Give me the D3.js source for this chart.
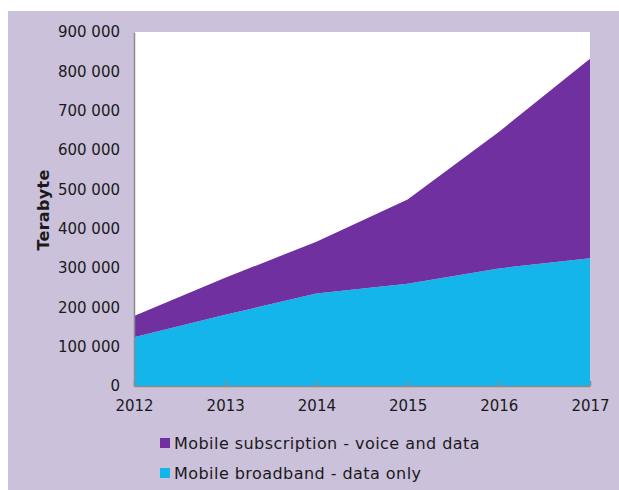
<!DOCTYPE html>
<html lang="en">
<head>
    <meta charset="UTF-8">
    <title>Mobile data traffic</title>
    <script src="https://d3js.org/d3.v7.min.js"></script>
    <style>
        body {
            margin: 0;
            background: #ffffff;
            font-family: "DejaVu Sans", Verdana, sans-serif;
        }
        svg { display: block; }
        .tick text { fill: #1a1a1a; font-size: 15px; font-family: "DejaVu Sans", Verdana, sans-serif; }
    </style>
</head>
<body>
    <div id="chart"></div>
    <script>
        // values (terabyte)
        const years = [2012, 2013, 2014, 2015, 2016, 2017];
        const broadband = [124000, 181000, 235000, 260000, 299000, 325000];
        const subscription = [54000, 94000, 132000, 214000, 347000, 507000];
        const yTicks = [0, 100000, 200000, 300000, 400000, 500000, 600000, 700000, 800000, 900000];
        const seriesNames = ["Mobile broadband - data only", "Mobile subscription - voice and data"];
        const seriesColors = ["#13b5ea", "#7030a0"];

        const width = 619, height = 490;
        const plot = { left: 134, right: 590, top: 32, bottom: 386 };

        const svg = d3.select("#chart").append("svg")
            .attr("width", width)
            .attr("height", height);

        // lavender panel
        svg.append("rect")
            .attr("x", 8).attr("y", 11)
            .attr("width", width - 8).attr("height", height - 11)
            .attr("fill", "#cbc1db");

        svg.append("rect")
            .attr("x", plot.left).attr("y", plot.top)
            .attr("width", plot.right - plot.left)
            .attr("height", plot.bottom - plot.top)
            .attr("fill", "#ffffff");

        const x = d3.scaleLinear()
            .domain(d3.extent(years))
            .range([plot.left, plot.right]);

        const y = d3.scaleLinear()
            .domain([0, 900000])
            .range([plot.bottom, plot.top]);

        const table = years.map((yr, i) => ({
            year: yr,
            broadband: broadband[i],
            subscription: subscription[i]
        }));

        const stack = d3.stack().keys(["broadband", "subscription"]);
        const layers = stack(table);

        const area = d3.area()
            .x(d => x(d.data.year))
            .y0(d => y(d[0]))
            .y1(d => y(d[1]));

        svg.append("g").selectAll("path")
            .data(layers)
            .enter().append("path")
            .attr("d", area)
            .attr("fill", (d, i) => seriesColors[i]);

        // y axis
        const fmt = v => d3.format(",")(v).replace(/,/g, " ");
        const yAxis = svg.append("g")
            .attr("transform", `translate(${plot.left},0)`)
            .call(d3.axisLeft(y).tickValues(yTicks).tickFormat(fmt).tickSize(0).tickPadding(14));
        yAxis.select(".domain").attr("stroke", "#8c8c8c").attr("stroke-width", 1.5);

        // x axis, ticks point into the plot
        const xAxis = svg.append("g")
            .attr("transform", `translate(0,${plot.bottom})`)
            .call(d3.axisBottom(x).tickValues(years).tickFormat(d3.format("d")).tickSizeInner(-5).tickSizeOuter(0).tickPadding(14));
        xAxis.select(".domain").attr("stroke", "#8c8c8c").attr("stroke-width", 1.5);
        xAxis.selectAll(".tick line").attr("stroke", "#8c8c8c").attr("stroke-width", 1.5);

        // y title
        svg.append("text")
            .attr("transform", "translate(49,210) rotate(-90)")
            .attr("text-anchor", "middle")
            .attr("font-size", 16)
            .attr("font-weight", "bold")
            .attr("letter-spacing", 0.3)
            .attr("fill", "#1a1a1a")
            .text("Terabyte");

        // legend: subscription first, then broadband
        const legendItems = [1, 0];
        const legend = svg.append("g").selectAll("g")
            .data(legendItems)
            .enter().append("g")
            .attr("transform", (d, i) => `translate(160,${443 + i * 30})`);

        legend.append("rect")
            .attr("x", 0).attr("y", -5)
            .attr("width", 10).attr("height", 10)
            .attr("fill", d => seriesColors[d]);

        legend.append("text")
            .attr("x", 14)
            .attr("dy", "0.35em")
            .attr("font-size", 16)
            .attr("letter-spacing", 0.45)
            .attr("fill", "#1a1a1a")
            .text(d => seriesNames[d]);
    </script>
</body>
</html>
